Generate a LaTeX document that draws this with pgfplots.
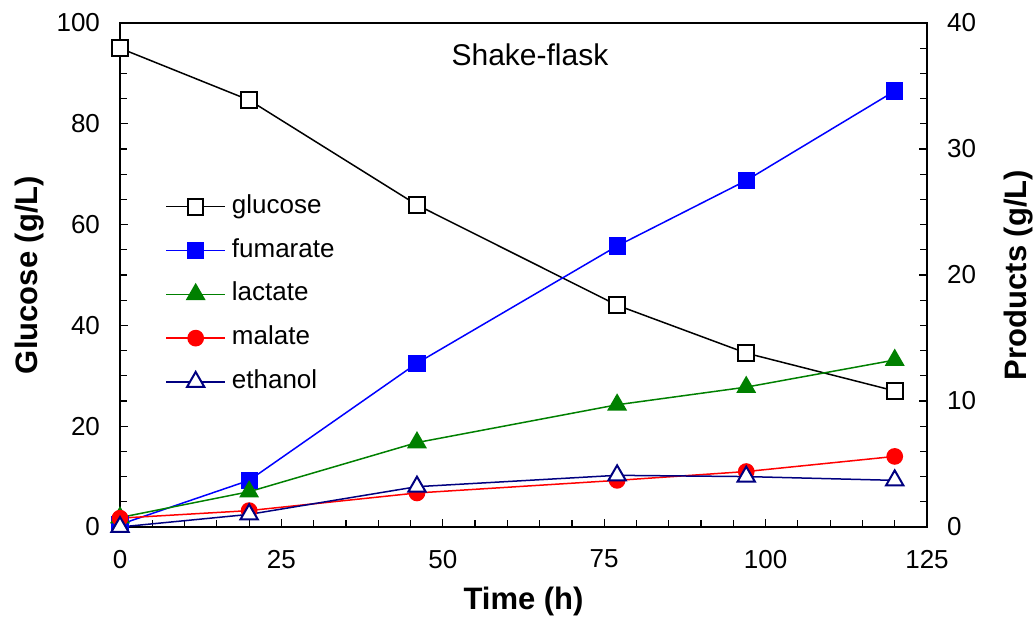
\documentclass[border=0pt]{standalone}
\usepackage{pgfplots}
\pgfplotsset{compat=1.18}
\usepackage{fontspec}
\setmainfont{Liberation Sans}

\definecolor{navy}{RGB}{0,0,128}
\definecolor{dgreen}{RGB}{0,128,0}

\pgfplotsset{
  common/.style={
    scale only axis, width=403.5pt, height=252pt,
    xmin=0, xmax=125,
    clip=false,
    tick align=inside,
    major tick length=4pt, minor tick length=3.5pt,
    tick style={black, line width=0.6pt},
    axis line style={line width=0.8pt},
    /pgf/number format/assume math mode=true,
    tick label style={font=\fontsize{13}{15}\selectfont},
    label style={font=\fontsize{15.5}{18}\selectfont\bfseries},
  },
}

\begin{document}
\begin{tikzpicture}
\begin{axis}[common, name=main,
  ymin=0, ymax=100,
  xtick={0,25,...,125}, minor x tick num=4,
  ytick={0,20,...,100}, minor y tick num=3,
  xtick pos=bottom, ytick pos=left,
  xticklabel style={yshift=-8pt},
  yticklabel style={xshift=-6.5pt},
  xlabel={Time (h)}, ylabel={Glucose (g/L)},
  xlabel style={at={(axis description cs:0.5,-0.147)}, anchor=center},
  ylabel style={at={(axis description cs:-0.1115,0.5)}, anchor=center},
]
% glucose
\addplot[black, line width=0.75pt, mark=square*, mark size=3.9pt,
  mark options={fill=white, line width=1pt}] coordinates {
  (0,95.0) (20,84.7) (46,63.9) (77,44.0) (97,34.5) (120,27.0)
};
\node[font=\fontsize{15}{18}\selectfont] at (rel axis cs:0.508,0.937) {Shake-flask};
\end{axis}

\begin{axis}[common,
  ymin=0, ymax=40,
  axis x line=none, axis y line*=right,
  ytick={0,10,...,40}, minor y tick num=4,
  yticklabel style={xshift=6.5pt},
  ylabel={Products (g/L)},
  ylabel style={at={(axis description cs:1.113,0.5)}, anchor=center},
  legend image code/.code={\draw[mark repeat=2,mark phase=2,#1]
    plot coordinates {(0pt,0pt) (14.75pt,0pt) (29.5pt,0pt)};},
  legend style={draw=none, fill=none, at={(0.0558,0.665)}, anchor=north west,
    font=\fontsize{13}{15}\selectfont, inner sep=0pt, row sep=7.4pt, column sep=2pt,
    nodes={inner sep=1pt, text height=9.5pt, text depth=3pt}},
  legend cell align=left,
]
\addlegendimage{black, line width=0.75pt, mark=square*, mark size=3.9pt,
  mark options={fill=white, line width=1pt}}
\addlegendentry{glucose}
% fumarate
\addplot[blue, line width=0.75pt, mark=square*, mark size=3.9pt] coordinates {
  (0,0.2) (20,3.7) (46,13.0) (77,22.3) (97,27.5) (120,34.6)
};
\addlegendentry{fumarate}
% lactate
\addplot[dgreen, line width=0.75pt, mark=triangle*, mark size=5pt] coordinates {
  (0,0.75) (20,2.8) (46,6.7) (77,9.7) (97,11.1) (120,13.25)
};
\addlegendentry{lactate}
% malate
\addplot[red, line width=0.75pt, mark=*, mark size=3.8pt] coordinates {
  (0,0.7) (20,1.3) (46,2.7) (77,3.7) (97,4.4) (120,5.6)
};
\addlegendentry{malate}
% ethanol
\addplot[navy, line width=0.75pt, mark=triangle*, mark size=5pt,
  mark options={fill=white, line width=1pt}] coordinates {
  (0,0.0) (20,1.0) (46,3.2) (77,4.1) (97,4.0) (120,3.7)
};
\addlegendentry{ethanol}
\end{axis}
\pgfresetboundingbox
\path ([shift={(-60pt,-48.5pt)}]main.south west) rectangle ([shift={(54pt,11.5pt)}]main.north east);
\end{tikzpicture}
\end{document}
